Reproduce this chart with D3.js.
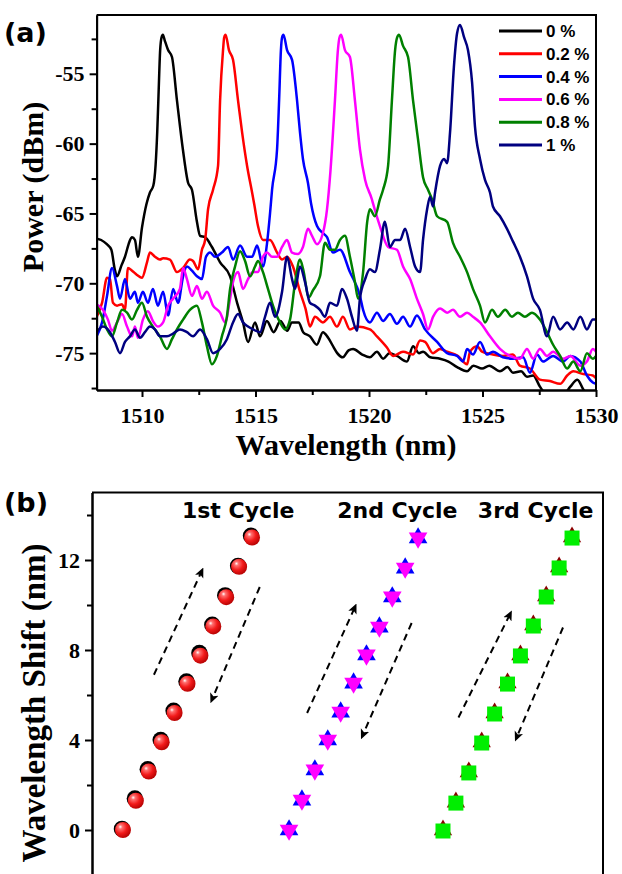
<!DOCTYPE html>
<html>
<head>
<meta charset="utf-8">
<script src="https://cdn.jsdelivr.net/npm/d3@7"></script>
<style>
  body { margin: 0; background: #fff; }
  .axis path, .axis line { stroke: #000; stroke-width: 2; }
  .tick text { font-family: "Liberation Serif", "Times New Roman", serif; font-weight: bold; font-size: 22px; fill: #000; }
  .title { font-family: "Liberation Serif", "Times New Roman", serif; font-weight: bold; fill: #000; }
  .sans { font-family: "DejaVu Sans", sans-serif; font-weight: bold; fill: #000; }
  .legend { font-family: "Liberation Sans", Arial, sans-serif; font-weight: bold; font-size: 17px; fill: #000; }
</style>
</head>
<body>
<svg id="fig" width="622" height="874"></svg>
<script>
// ---------- data, panel (a): spectra [wavelength nm, power dBm]
const strainLabels = ['0 %', '0.2 %', '0.4 %', '0.6 %', '0.8 %', '1 %'];
const lineColors = ['#000000', '#ff0000', '#0000ff', '#ff00ff', '#008000', '#000080'];

const spec0 = [[1508.0,-66.8],[1508.2,-66.9],[1508.45,-67.2],[1508.65,-67.6],[1508.8,-69.0],[1508.9,-69.5],[1509.1,-68.7],[1509.25,-68.1],[1509.45,-67.0],[1509.56,-66.7],[1509.69,-66.9],[1509.82,-68.1],[1510.0,-66.0],[1510.2,-64.3],[1510.35,-63.5],[1510.5,-63.0],[1510.6,-61.5],[1510.67,-59.2],[1510.72,-56.9],[1510.8,-53.3],[1510.86,-52.4],[1510.92,-52.2],[1511.0,-52.6],[1511.15,-53.3],[1511.32,-53.8],[1511.54,-56.9],[1511.8,-60.4],[1512.03,-62.8],[1512.2,-63.3],[1512.42,-65.6],[1512.56,-66.6],[1512.78,-66.7],[1513.08,-67.4],[1513.44,-68.5],[1513.88,-69.5],[1514.19,-71.4],[1514.45,-72.8],[1514.67,-74.2],[1514.98,-72.8],[1515.2,-73.8],[1515.5,-72.7],[1515.8,-73.5],[1516.1,-72.7],[1516.4,-73.4],[1516.6,-72.8],[1516.9,-72.8],[1517.1,-73.5],[1517.4,-73.8],[1517.7,-74.4],[1517.97,-73.5],[1518.2,-73.9],[1518.45,-74.6],[1518.6,-75.0],[1518.85,-75.3],[1519.1,-74.8],[1519.3,-74.7],[1519.7,-75.1],[1520.04,-75.3],[1520.35,-74.9],[1520.62,-75.4],[1520.9,-75.0],[1521.23,-75.2],[1521.67,-75.6],[1521.94,-74.5],[1522.2,-75.0],[1522.38,-74.9],[1522.7,-75.3],[1523.13,-75.4],[1523.5,-75.6],[1523.88,-76.0],[1524.32,-76.3],[1524.6,-75.9],[1524.98,-76.1],[1525.3,-75.9],[1525.77,-76.3],[1526.1,-76.0],[1526.34,-76.4],[1526.7,-76.3],[1526.96,-76.7],[1527.23,-76.6],[1527.53,-77.4],[1527.84,-78.1],[1528.2,-78.4],[1528.6,-78.0],[1528.87,-77.4],[1529.18,-76.9],[1529.44,-77.6],[1529.7,-78.2],[1530.0,-78.3]];

const spec02 = [[1508.0,-72.4],[1508.24,-71.4],[1508.46,-69.6],[1508.59,-69.7],[1508.72,-71.4],[1508.9,-71.6],[1509.12,-71.5],[1509.25,-71.9],[1509.38,-68.9],[1509.56,-69.1],[1509.78,-69.4],[1510.0,-69.6],[1510.22,-68.5],[1510.35,-67.8],[1510.57,-68.1],[1510.79,-68.3],[1510.93,-68.2],[1511.23,-68.3],[1511.54,-69.2],[1511.81,-68.9],[1512.11,-68.3],[1512.25,-68.4],[1512.47,-69.0],[1512.64,-67.6],[1512.78,-66.9],[1512.91,-64.7],[1513.13,-63.3],[1513.35,-61.6],[1513.44,-56.9],[1513.57,-53.3],[1513.62,-52.4],[1513.68,-52.2],[1513.83,-53.3],[1514.01,-54.0],[1514.23,-56.9],[1514.41,-59.2],[1514.63,-61.6],[1514.85,-63.5],[1514.95,-64.4],[1515.11,-65.9],[1515.33,-66.9],[1515.64,-66.9],[1515.95,-67.8],[1516.17,-68.3],[1516.39,-68.1],[1516.65,-68.8],[1516.96,-70.6],[1517.2,-71.8],[1517.4,-73.1],[1517.62,-72.4],[1517.97,-72.8],[1518.28,-72.4],[1518.59,-73.1],[1518.85,-72.4],[1519.16,-73.3],[1519.47,-73.1],[1520.04,-73.3],[1520.35,-73.8],[1520.79,-74.6],[1521.06,-75.2],[1521.5,-74.9],[1521.94,-75.1],[1522.25,-74.1],[1522.47,-74.2],[1522.82,-75.0],[1523.13,-74.7],[1523.44,-74.9],[1523.92,-75.2],[1524.32,-75.8],[1524.45,-74.9],[1524.76,-74.5],[1524.98,-74.9],[1525.46,-75.1],[1525.9,-75.2],[1526.34,-75.1],[1526.65,-75.9],[1527.09,-76.1],[1527.53,-76.9],[1527.97,-77.0],[1528.42,-77.2],[1528.73,-76.6],[1529.0,-76.3],[1529.44,-76.5],[1529.86,-76.6],[1530.0,-76.8]];

const spec04 = [[1508.0,-73.8],[1508.24,-72.8],[1508.46,-70.9],[1508.68,-68.9],[1508.9,-70.2],[1509.03,-71.1],[1509.25,-69.7],[1509.47,-71.1],[1509.69,-70.6],[1509.82,-71.4],[1510.04,-70.6],[1510.26,-71.4],[1510.48,-70.4],[1510.7,-71.6],[1510.93,-70.6],[1511.15,-72.3],[1511.37,-70.4],[1511.59,-71.4],[1511.81,-69.5],[1511.98,-68.8],[1512.2,-69.1],[1512.42,-69.5],[1512.64,-69.7],[1512.82,-68.1],[1513.0,-67.8],[1513.22,-68.1],[1513.52,-67.8],[1513.79,-67.4],[1514.01,-68.3],[1514.32,-67.3],[1514.63,-68.1],[1514.85,-68.1],[1515.07,-67.3],[1515.33,-68.8],[1515.51,-67.1],[1515.64,-65.0],[1515.73,-63.3],[1515.95,-60.4],[1516.04,-56.9],[1516.12,-53.3],[1516.17,-52.4],[1516.23,-52.2],[1516.39,-53.3],[1516.61,-54.0],[1516.83,-56.9],[1516.96,-59.2],[1517.09,-61.1],[1517.31,-62.8],[1517.45,-64.3],[1517.71,-65.9],[1517.97,-66.4],[1518.15,-66.7],[1518.41,-67.8],[1518.72,-67.6],[1519.16,-69.2],[1519.6,-70.9],[1519.74,-71.9],[1520.04,-72.8],[1520.35,-72.1],[1520.62,-72.7],[1520.92,-72.2],[1521.23,-72.9],[1521.5,-72.4],[1521.81,-73.1],[1522.11,-72.3],[1522.47,-73.3],[1523.0,-74.2],[1523.44,-75.0],[1523.88,-75.2],[1524.14,-75.6],[1524.32,-74.7],[1524.58,-75.1],[1524.89,-74.2],[1525.2,-75.1],[1525.46,-74.9],[1525.9,-75.3],[1526.34,-75.4],[1526.79,-75.3],[1527.09,-76.4],[1527.4,-75.1],[1527.67,-75.6],[1528.11,-75.2],[1528.55,-75.6],[1528.87,-75.2],[1529.31,-75.6],[1529.6,-76.6],[1529.86,-77.1],[1530.0,-77.2]];

const spec06 = [[1508.0,-71.5],[1508.28,-71.9],[1508.5,-72.6],[1508.68,-73.4],[1508.9,-72.8],[1509.12,-72.2],[1509.34,-73.1],[1509.56,-73.8],[1509.69,-73.1],[1509.82,-73.9],[1510.04,-72.6],[1510.26,-72.0],[1510.48,-72.7],[1510.7,-73.1],[1510.93,-72.8],[1511.15,-71.6],[1511.37,-71.1],[1511.67,-70.4],[1511.81,-68.9],[1511.98,-69.7],[1512.2,-70.9],[1512.42,-70.2],[1512.64,-71.1],[1512.86,-70.6],[1513.13,-71.6],[1513.44,-72.1],[1513.66,-72.8],[1513.88,-71.1],[1514.01,-69.9],[1514.23,-69.2],[1514.45,-70.4],[1514.67,-69.7],[1514.89,-69.2],[1515.11,-69.2],[1515.33,-68.1],[1515.51,-67.8],[1515.73,-68.1],[1515.95,-68.1],[1516.17,-67.4],[1516.39,-66.9],[1516.61,-67.8],[1516.87,-67.9],[1517.09,-67.4],[1517.31,-66.1],[1517.49,-66.6],[1517.71,-67.2],[1517.97,-66.4],[1518.15,-64.7],[1518.3,-62.0],[1518.5,-56.9],[1518.63,-53.3],[1518.7,-52.4],[1518.77,-52.2],[1518.94,-53.3],[1519.16,-53.8],[1519.38,-56.9],[1519.6,-60.4],[1519.83,-62.6],[1520.13,-64.0],[1520.18,-64.3],[1520.48,-65.9],[1520.84,-67.4],[1521.23,-67.6],[1521.5,-68.8],[1521.81,-69.7],[1522.11,-71.1],[1522.38,-72.2],[1522.6,-73.3],[1522.82,-72.4],[1523.13,-71.8],[1523.44,-72.1],[1523.7,-71.9],[1524.01,-72.4],[1524.32,-72.1],[1524.58,-72.4],[1524.89,-72.8],[1525.33,-73.8],[1525.77,-74.7],[1526.21,-75.2],[1526.65,-75.4],[1526.96,-74.7],[1527.23,-75.4],[1527.53,-74.7],[1527.84,-75.2],[1528.11,-74.9],[1528.55,-75.4],[1528.87,-75.2],[1529.31,-75.9],[1529.6,-75.6],[1529.86,-74.7],[1530.0,-74.9]];

const spec08 = [[1508.0,-71.6],[1508.24,-72.4],[1508.46,-73.3],[1508.68,-73.8],[1508.9,-72.8],[1509.12,-71.9],[1509.34,-72.1],[1509.56,-72.6],[1509.78,-71.9],[1510.0,-71.4],[1510.22,-72.4],[1510.48,-73.1],[1510.79,-73.8],[1511.1,-74.7],[1511.32,-74.0],[1511.54,-73.3],[1511.81,-72.6],[1512.11,-71.9],[1512.42,-71.6],[1512.64,-72.8],[1512.86,-74.5],[1513.08,-75.8],[1513.3,-75.2],[1513.52,-73.8],[1513.74,-72.4],[1513.88,-70.4],[1514.1,-68.8],[1514.32,-67.7],[1514.54,-68.4],[1514.76,-69.5],[1514.98,-68.8],[1515.11,-68.4],[1515.33,-69.2],[1515.55,-70.4],[1515.77,-71.6],[1516.08,-72.8],[1516.3,-73.3],[1516.52,-72.6],[1516.74,-70.0],[1516.96,-68.3],[1517.1,-69.0],[1517.35,-71.0],[1517.53,-70.5],[1517.84,-69.5],[1518.06,-67.1],[1518.28,-67.6],[1518.5,-67.6],[1518.72,-66.9],[1518.94,-66.6],[1519.16,-68.1],[1519.38,-69.9],[1519.52,-71.1],[1519.74,-69.2],[1519.92,-65.6],[1520.04,-64.7],[1520.26,-65.2],[1520.48,-64.0],[1520.62,-63.3],[1520.84,-61.6],[1521.01,-56.9],[1521.15,-53.3],[1521.24,-52.4],[1521.32,-52.2],[1521.5,-53.0],[1521.72,-53.8],[1521.94,-56.9],[1522.16,-59.7],[1522.38,-62.4],[1522.6,-63.3],[1522.78,-64.0],[1523.0,-65.2],[1523.44,-65.6],[1523.7,-67.1],[1524.01,-68.1],[1524.32,-69.2],[1524.58,-70.4],[1524.89,-71.6],[1525.11,-72.8],[1525.42,-71.9],[1525.68,-72.4],[1526.0,-71.9],[1526.3,-72.4],[1526.56,-72.1],[1526.87,-72.4],[1527.18,-72.1],[1527.53,-72.6],[1527.84,-73.5],[1528.11,-74.4],[1528.42,-75.2],[1528.73,-76.1],[1529.0,-75.6],[1529.31,-76.3],[1529.6,-75.0],[1529.86,-75.4],[1530.0,-75.2]];

const spec10 = [[1508.0,-73.5],[1508.28,-73.1],[1508.59,-73.5],[1508.81,-74.2],[1509.03,-75.0],[1509.25,-74.2],[1509.47,-73.8],[1509.69,-73.3],[1509.91,-73.9],[1510.13,-73.5],[1510.35,-73.1],[1510.57,-73.3],[1510.79,-73.8],[1511.1,-73.8],[1511.37,-73.6],[1511.67,-73.3],[1511.98,-73.5],[1512.25,-73.8],[1512.56,-73.3],[1512.86,-74.0],[1513.13,-75.0],[1513.44,-74.7],[1513.74,-74.0],[1514.01,-72.8],[1514.23,-72.2],[1514.45,-72.8],[1514.67,-73.1],[1514.89,-73.3],[1515.2,-73.5],[1515.42,-72.4],[1515.64,-71.4],[1515.86,-72.4],[1516.17,-70.6],[1516.39,-68.1],[1516.61,-69.7],[1516.74,-70.4],[1516.96,-68.8],[1517.18,-69.9],[1517.4,-71.4],[1517.62,-71.6],[1517.84,-71.9],[1518.06,-72.4],[1518.28,-71.4],[1518.59,-71.6],[1518.81,-70.4],[1519.03,-71.1],[1519.25,-72.4],[1519.47,-73.4],[1519.6,-71.1],[1519.83,-69.7],[1520.04,-69.0],[1520.26,-69.2],[1520.48,-67.6],[1520.7,-65.6],[1520.92,-67.4],[1521.15,-66.9],[1521.37,-66.9],[1521.59,-66.1],[1521.81,-67.4],[1522.03,-68.8],[1522.25,-69.2],[1522.38,-66.9],[1522.56,-64.7],[1522.69,-63.8],[1522.82,-64.5],[1522.91,-63.5],[1523.13,-61.6],[1523.31,-61.1],[1523.44,-61.4],[1523.57,-59.2],[1523.74,-54.5],[1523.88,-52.1],[1524.01,-51.5],[1524.19,-52.4],[1524.36,-53.3],[1524.54,-55.6],[1524.67,-58.8],[1524.89,-61.1],[1525.11,-62.6],[1525.33,-63.5],[1525.46,-64.5],[1525.77,-65.2],[1526.08,-66.1],[1526.34,-67.0],[1526.65,-68.1],[1526.96,-69.5],[1527.23,-71.1],[1527.53,-71.9],[1527.84,-73.8],[1528.11,-72.4],[1528.42,-73.3],[1528.73,-72.8],[1529.0,-73.3],[1529.31,-72.4],[1529.6,-73.3],[1529.86,-72.6],[1530.0,-72.6]];

const spectra = [spec0, spec02, spec04, spec06, spec08, spec10];
const xTicksA = [1510, 1515, 1520, 1525, 1530];
const xMinorA = [1512.5, 1517.5, 1522.5, 1527.5];
const yTicksA = [-55, -60, -65, -70, -75];
const yMinorA = [-52.5, -57.5, -62.5, -67.5, -72.5, -77.5];

// ---------- data, panel (b): wavelength shift per strain step (nm)
const steps = [0, 1, 2, 3, 4, 5, 6, 7, 8, 9, 10];
const cycleStart = [0, 12.87, 24.8];
const cycleNames = ['1st Cycle', '2nd Cycle', '3rd Cycle'];
const load1   = [0.05, 1.4, 2.7, 4.0, 5.3, 6.6, 7.87, 9.12, 10.43, 11.74, 13.08];
const unload1 = [0, 1.3, 2.6, 3.9, 5.2, 6.5, 7.75, 9.05, 10.35, 11.7, 13.0];
const load2   = [0, 1.33, 2.67, 4.0, 5.24, 6.53, 7.78, 9.02, 10.36, 11.64, 12.98];
const unload2 = [0, 1.33, 2.67, 4.0, 5.24, 6.53, 7.78, 9.02, 10.36, 11.64, 12.98];
const load3   = [0, 1.24, 2.58, 3.91, 5.2, 6.53, 7.78, 9.11, 10.4, 11.69, 13.02];
const unload3 = [0, 1.24, 2.58, 3.91, 5.2, 6.53, 7.78, 9.11, 10.4, 11.69, 13.02];
const yTicksB = [0, 4, 8, 12];
const yMinorB = [-2, 2, 6, 10, 14];
// dashed guide arrows [fromStep, fromShift, toStep, toShift] relative to cycle start
const upArrows   = [[2.4, 6.9, 6.1, 11.5], [1.4, 5.2, 5.1, 9.9], [1.2, 5.0, 5.2, 9.6]];
const downArrows = [[10.6, 10.8, 6.9, 5.8], [9.5, 9.2, 5.7, 4.2], [9.3, 9.0, 5.7, 4.1]];

const svg = d3.select('#fig');
const defs = svg.append('defs');
const fmt = d => String(d);   // plain hyphen minus, as in the original

// ================= panel (a)
const xA = d3.scaleLinear().domain([1508, 1530]).range([96.6, 596]);
const yA = d3.scaleLinear().domain([-77.64, -50.79]).range([390, 15]);

defs.append('clipPath').attr('id', 'clipA').append('rect')
  .attr('x', xA.range()[0]).attr('y', yA.range()[1])
  .attr('width', xA.range()[1] - xA.range()[0])
  .attr('height', yA.range()[0] - yA.range()[1]);

const line = d3.line()
  .x(d => xA(d[0]))
  .y(d => yA(d[1]))
  .curve(d3.curveMonotoneX);

const gLines = svg.append('g').attr('clip-path', 'url(#clipA)');
spectra.forEach((s, i) => {
  gLines.append('path')
    .attr('d', line(s))
    .attr('fill', 'none')
    .attr('stroke', lineColors[i])
    .attr('stroke-width', 2.5)
    .attr('stroke-linejoin', 'round');
});

// axes
svg.append('g').attr('class', 'axis').attr('transform', `translate(0,${yA.range()[0]})`)
  .call(d3.axisBottom(xA).tickValues(xTicksA).tickSize(7).tickSizeOuter(0).tickPadding(10).tickFormat(fmt));
svg.append('g').attr('class', 'axis').attr('transform', `translate(0,${yA.range()[0]})`)
  .call(d3.axisBottom(xA).tickValues(xMinorA).tickSize(5).tickSizeOuter(0).tickFormat(''));
svg.append('g').attr('class', 'axis').attr('transform', `translate(${xA.range()[0]},0)`)
  .call(d3.axisLeft(yA).tickValues(yTicksA).tickSize(7).tickSizeOuter(0).tickPadding(5).tickFormat(fmt));
svg.append('g').attr('class', 'axis').attr('transform', `translate(${xA.range()[0]},0)`)
  .call(d3.axisLeft(yA).tickValues(yMinorA).tickSize(5).tickSizeOuter(0).tickFormat(''));

// frame top/right
svg.append('path')
  .attr('d', `M${xA.range()[0]},${yA.range()[1]}H${xA.range()[1]}V${yA.range()[0]}`)
  .attr('fill', 'none').attr('stroke', '#000').attr('stroke-width', 2);

// legend
const leg = svg.append('g');
strainLabels.forEach((lab, i) => {
  const y = 31 + i * 22.8;
  leg.append('line').attr('x1', 499).attr('x2', 542).attr('y1', y).attr('y2', y)
    .attr('stroke', lineColors[i]).attr('stroke-width', 3);
  leg.append('text').attr('class', 'legend').attr('x', 546).attr('y', y + 6).text(lab);
});

// titles
svg.append('text').attr('class', 'title').attr('font-size', 30)
  .attr('text-anchor', 'middle').attr('transform', 'translate(43,187) rotate(-90)')
  .text('Power (dBm)');
svg.append('text').attr('class', 'title').attr('font-size', 30)
  .attr('text-anchor', 'middle').attr('x', 346).attr('y', 455)
  .text('Wavelength (nm)');
svg.append('text').attr('class', 'sans').attr('font-size', 27).attr('x', 4).attr('y', 42).text('(a)');

// ================= panel (b)
const xB = d3.scaleLinear().domain([-2.4, 37.2]).range([92, 603]);
const yB = d3.scaleLinear().domain([-2.2, 15]).range([879.5, 492.5]);

svg.append('g').attr('class', 'axis').attr('transform', `translate(${xB.range()[0]},0)`)
  .call(d3.axisLeft(yB).tickValues(yTicksB).tickSize(7).tickSizeOuter(0).tickPadding(5).tickFormat(fmt));
svg.append('g').attr('class', 'axis').attr('transform', `translate(${xB.range()[0]},0)`)
  .call(d3.axisLeft(yB).tickValues(yMinorB).tickSize(5).tickSizeOuter(0).tickFormat(''));
svg.append('path')
  .attr('d', `M${xB.range()[0]},${yB.range()[1]}H${xB.range()[1]}V${yB.range()[0]}`)
  .attr('fill', 'none').attr('stroke', '#000').attr('stroke-width', 2);

svg.append('text').attr('class', 'title').attr('font-size', 33)
  .attr('text-anchor', 'middle').attr('transform', 'translate(45,703) rotate(-90)')
  .text('Wavelength Shift (nm)');
svg.append('text').attr('class', 'sans').attr('font-size', 27).attr('x', 4).attr('y', 512).text('(b)');

// cycle labels
const labelStep = [4.57, 16.6, 27.5];
cycleNames.forEach((n, i) => {
  svg.append('text').attr('class', 'sans').attr('font-size', 22)
    .attr('x', xB(labelStep[i])).attr('y', yB(13.87)).text(n);
});

// arrows
defs.append('marker').attr('id', 'ahead')
  .attr('viewBox', '0 -5 10 10').attr('refX', 6).attr('refY', 0)
  .attr('markerWidth', 10).attr('markerHeight', 10).attr('markerUnits', 'userSpaceOnUse')
  .attr('orient', 'auto')
  .append('path').attr('d', 'M0,-4.5L10,0L0,4.5L2.5,0Z').attr('fill', '#000');

[upArrows, downArrows].forEach(set => {
  set.forEach((a, i) => {
    svg.append('line')
      .attr('x1', xB(cycleStart[i] + a[0])).attr('y1', yB(a[1]))
      .attr('x2', xB(cycleStart[i] + a[2])).attr('y2', yB(a[3]))
      .attr('stroke', '#000').attr('stroke-width', 2)
      .attr('stroke-dasharray', '7,5')
      .attr('marker-end', 'url(#ahead)');
  });
});

// sphere gradient
const grad = defs.append('radialGradient').attr('id', 'sph')
  .attr('cx', '38%').attr('cy', '35%').attr('r', '70%').attr('fx', '33%').attr('fy', '30%');
grad.append('stop').attr('offset', '0%').attr('stop-color', '#ffffff');
grad.append('stop').attr('offset', '18%').attr('stop-color', '#ff7070');
grad.append('stop').attr('offset', '55%').attr('stop-color', '#f21a1a');
grad.append('stop').attr('offset', '100%').attr('stop-color', '#b00000');

// cycle 1: circles
svg.append('g').selectAll('circle').data(steps).join('circle')
  .attr('cx', i => xB(cycleStart[0] + i) - 1).attr('cy', i => yB(load1[i]))
  .attr('r', 8.2).attr('fill', '#000');
svg.append('g').selectAll('circle').data(steps).join('circle')
  .attr('cx', i => xB(cycleStart[0] + i)).attr('cy', i => yB(unload1[i]))
  .attr('r', 8).attr('fill', 'url(#sph)');

// cycle 2: star (up blue + down magenta)
const tri = d3.symbol().type(d3.symbolTriangle).size(150);
svg.append('g').selectAll('path').data(steps).join('path')
  .attr('d', tri)
  .attr('transform', i => `translate(${xB(cycleStart[1] + i)},${yB(load2[i])})`)
  .attr('fill', '#0000ff');
svg.append('g').selectAll('path').data(steps).join('path')
  .attr('d', tri)
  .attr('transform', i => `translate(${xB(cycleStart[1] + i)},${yB(unload2[i])}) rotate(180)`)
  .attr('fill', '#ff00ff');

// cycle 3: dark red triangles + green squares
svg.append('g').selectAll('path').data(steps).join('path')
  .attr('d', d3.symbol().type(d3.symbolTriangle).size(145))
  .attr('transform', i => `translate(${xB(cycleStart[2] + i)},${yB(load3[i])})`)
  .attr('fill', '#8b0000');
svg.append('g').selectAll('path').data(steps).join('path')
  .attr('d', d3.symbol().type(d3.symbolSquare).size(225))
  .attr('transform', i => `translate(${xB(cycleStart[2] + i)},${yB(unload3[i]) + 1})`)
  .attr('fill', '#00ee00');
</script>
</body>
</html>
